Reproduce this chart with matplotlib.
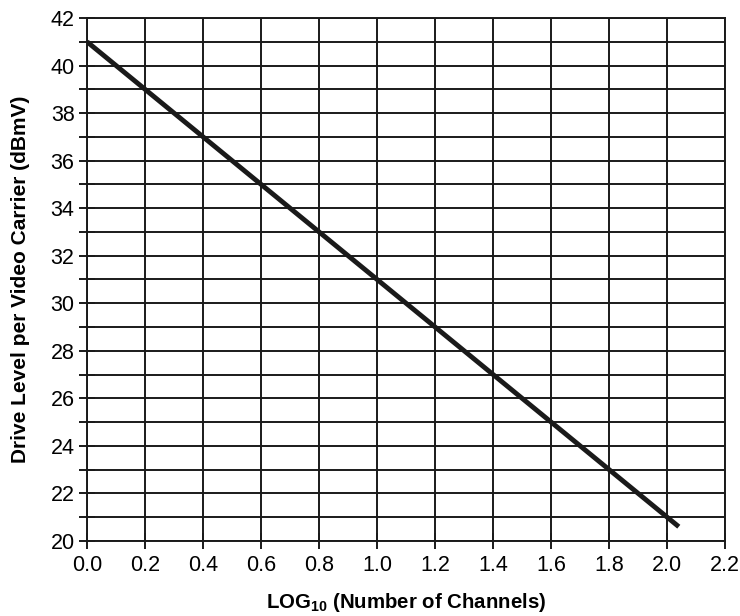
import numpy as np
import matplotlib
matplotlib.use("Agg")
import matplotlib.pyplot as plt
from matplotlib.ticker import MultipleLocator

# -------------------------------
# data
log_channels = [0.0, 2.04]
drive_level = [41.0, 20.6]
x_ticks = [0.0, 0.2, 0.4, 0.6, 0.8, 1.0, 1.2, 1.4, 1.6, 1.8, 2.0, 2.2]
y_ticks = [20, 22, 24, 26, 28, 30, 32, 34, 36, 38, 40, 42]
# -------------------------------

plt.rcParams['font.family'] = ['Liberation Sans', 'DejaVu Sans']
plt.rcParams['mathtext.fontset'] = 'custom'
plt.rcParams['mathtext.rm'] = 'Liberation Sans'
plt.rcParams['mathtext.bf'] = 'Liberation Sans:bold'

fig = plt.figure(figsize=(7.4, 6.16), dpi=100)
ax = fig.add_axes([0.1176, 0.1218, 0.8624, 0.849])

ax.plot(log_channels, drive_level, color='#1a1a1a', linewidth=3.5, solid_capstyle='butt', zorder=3)

ax.set_xlim(0, 2.2)
ax.set_ylim(20, 42)
ax.set_xticks(x_ticks)
ax.set_xticklabels([f"{t:.1f}" for t in x_ticks])
ax.set_yticks(y_ticks)
ax.yaxis.set_minor_locator(MultipleLocator(1))

ax.grid(True, which='major', axis='x', color='#1a1a1a', linewidth=1.4)
ax.grid(True, which='both', axis='y', color='#1a1a1a', linewidth=1.4)

ax.tick_params(axis='both', which='both', direction='inout', length=12, width=1.4,
               labelsize=15.5, color='#1a1a1a')
ax.tick_params(axis='x', pad=4)
ax.tick_params(axis='y', pad=3)
for s in ax.spines.values():
    s.set_linewidth(1.4)
    s.set_color('#1a1a1a')

ax.set_xlabel(r"LOG$_{\mathbf{10}}$ (Number of Channels)", fontsize=14.7, fontweight='bold', va='center')
ax.set_ylabel("Drive Level per Video Carrier (dBmV)", fontsize=15, fontweight='bold', va='center')
ax.xaxis.set_label_coords(0.5, -0.117)
ax.yaxis.set_label_coords(-0.105, 0.5)

fig.savefig("out.png", dpi=100)
